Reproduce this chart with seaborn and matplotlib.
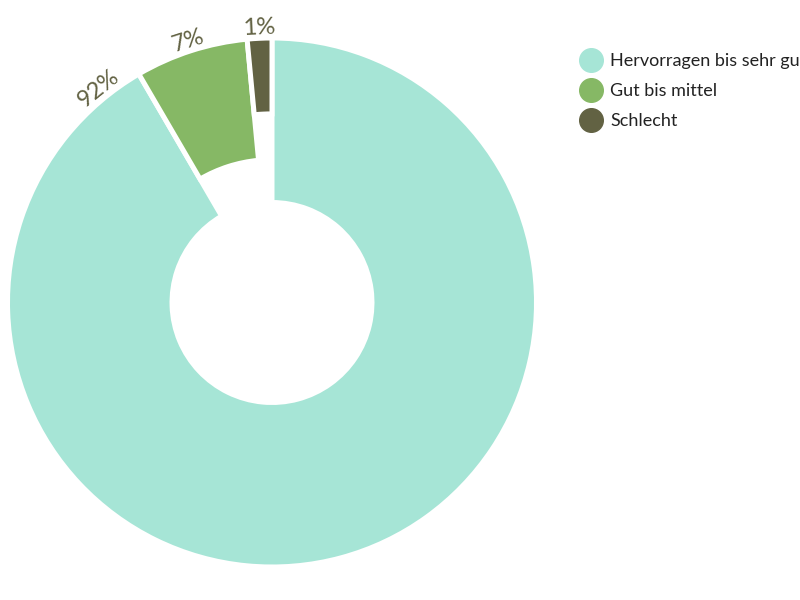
import numpy as np
import matplotlib
matplotlib.use("Agg")
import matplotlib.pyplot as plt
from matplotlib.lines import Line2D
import seaborn as sns

categories = ["Hervorragen bis sehr gut", "Gut bis mittel", "Schlecht"]
values = [91.6, 6.9, 1.5]
labels = ["92%", "7%", "1%"]

colors = ["#a6e5d6", "#86b865", "#626243"]
ring_widths = [0.622, 0.46, 0.287]
label_color = "#626243"

sns.set_theme(style="white")
plt.rcParams['font.family'] = ['Lato', 'DejaVu Sans']

fig = plt.figure(figsize=(8, 6), dpi=100)
R = 264.5
L = 1.2
w = 2 * L * R / 800
h = 2 * L * R / 600
ax = fig.add_axes([(272 - L * R) / 800, (297.5 - L * R) / 600, w, h])

wedges, _ = ax.pie(values, colors=colors, startangle=90, counterclock=False,
                   radius=1.0, wedgeprops=dict(edgecolor="white", linewidth=3.6))
for wdg, wd in zip(wedges, ring_widths):
    wdg.set_width(wd)
ax.set_xlim(-L, L)
ax.set_ylim(-L, L)
ax.set_aspect("equal")
ax.axis("off")

total = float(sum(values))
cum = 0.0
for v, lab in zip(values, labels):
    span = v / total * 360.0
    start, end = cum, cum + span
    cum = end
    if v / total > 0.5:
        theta = end - 8.8
    else:
        theta = (start + end) / 2.0
    phi = np.deg2rad(90.0 - theta)
    r = 1.04
    ax.text(r * np.cos(phi), r * np.sin(phi), lab, rotation=-theta,
            rotation_mode="anchor", ha="center", va="center",
            color=label_color, fontsize=17, clip_on=False)

handles = [Line2D([0], [0], marker="o", linestyle="none", markersize=17,
                  markerfacecolor=c, markeredgecolor=c) for c in colors]
fig.legend(handles, categories, loc="upper left", bbox_to_anchor=(573 / 800, 1 - 46 / 600),
           frameon=False, fontsize=13, handletextpad=0.45, labelspacing=0.78,
           labelcolor="#222222", borderaxespad=0, handlelength=1.2)

fig.savefig("out.png", dpi=100)
